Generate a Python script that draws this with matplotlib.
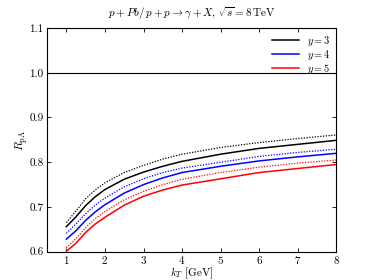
import matplotlib
matplotlib.use("Agg")
import matplotlib.pyplot as plt

plt.rcParams['mathtext.fontset'] = 'cm'
plt.rcParams['font.family'] = ['cmr10', 'DejaVu Serif']
plt.rcParams['axes.formatter.use_mathtext'] = True
plt.rcParams['axes.unicode_minus'] = False

kT = [1, 1.25, 1.5, 1.75, 2, 2.5, 3, 3.5, 4, 5, 6, 7, 8]

y3_solid = [0.656, 0.678, 0.703, 0.723, 0.739, 0.762, 0.778, 0.791, 0.802, 0.818, 0.831, 0.840, 0.849]
y3_dotted = [0.665, 0.691, 0.718, 0.738, 0.754, 0.777, 0.793, 0.807, 0.818, 0.833, 0.844, 0.853, 0.861]
y4_solid = [0.628, 0.647, 0.670, 0.689, 0.705, 0.731, 0.750, 0.765, 0.777, 0.791, 0.803, 0.812, 0.820]
y4_dotted = [0.641, 0.662, 0.685, 0.704, 0.720, 0.745, 0.763, 0.777, 0.787, 0.800, 0.813, 0.822, 0.829]
y5_solid = [0.601, 0.619, 0.643, 0.662, 0.677, 0.704, 0.724, 0.738, 0.749, 0.763, 0.777, 0.786, 0.795]
y5_dotted = [0.609, 0.629, 0.654, 0.674, 0.690, 0.716, 0.735, 0.750, 0.762, 0.777, 0.789, 0.798, 0.805]

labels = [r"$y = 3$", r"$y = 4$", r"$y = 5$"]
colors = ["black", "blue", "red"]
xticks = [1, 2, 3, 4, 5, 6, 7, 8]
yticks = [0.6, 0.7, 0.8, 0.9, 1.0, 1.1]

fig = plt.figure(figsize=(3.74, 2.8), dpi=100)
ax = fig.add_axes([0.1257, 0.101, 0.774, 0.799])

solids = [y3_solid, y4_solid, y5_solid]
dotteds = [y3_dotted, y4_dotted, y5_dotted]
for s, d, c, lab in zip(solids, dotteds, colors, labels):
    ax.plot(kT, s, color=c, lw=1.1, label=lab)
    ax.plot(kT, d, color=c, lw=0.9, ls=(0, (1, 1.2)))

ax.axhline(1.0, color='black', lw=0.8)

ax.set_xlim(0.5, 8)
ax.set_ylim(0.6, 1.1)
ax.set_xticks(xticks)
ax.set_yticks(yticks)
ax.set_yticklabels([f"{v:.1f}" for v in yticks])
ax.tick_params(direction='in', top=True, right=True, labelsize=8, length=3, width=0.6, pad=2.5)
ax.tick_params(axis='x', pad=2)
for sp in ax.spines.values():
    sp.set_linewidth(0.8)

ax.set_xlabel(r"$k_T\ [\mathrm{GeV}]$", fontsize=8, labelpad=-0.7)
ax.set_ylabel(r"$R_{\mathrm{pA}}$", fontsize=8.5, labelpad=-0.5)
ax.set_title(r"$p+Pb/\,p+p\rightarrow\gamma+X,\,\sqrt{s}=8\,\mathrm{TeV}$", fontsize=8, pad=8)

ax.legend(loc='upper right', frameon=False, fontsize=7.5, handlelength=2.6,
          labelspacing=0.0, borderaxespad=0.15, handletextpad=0.8)

fig.savefig("out.png", dpi=100)
